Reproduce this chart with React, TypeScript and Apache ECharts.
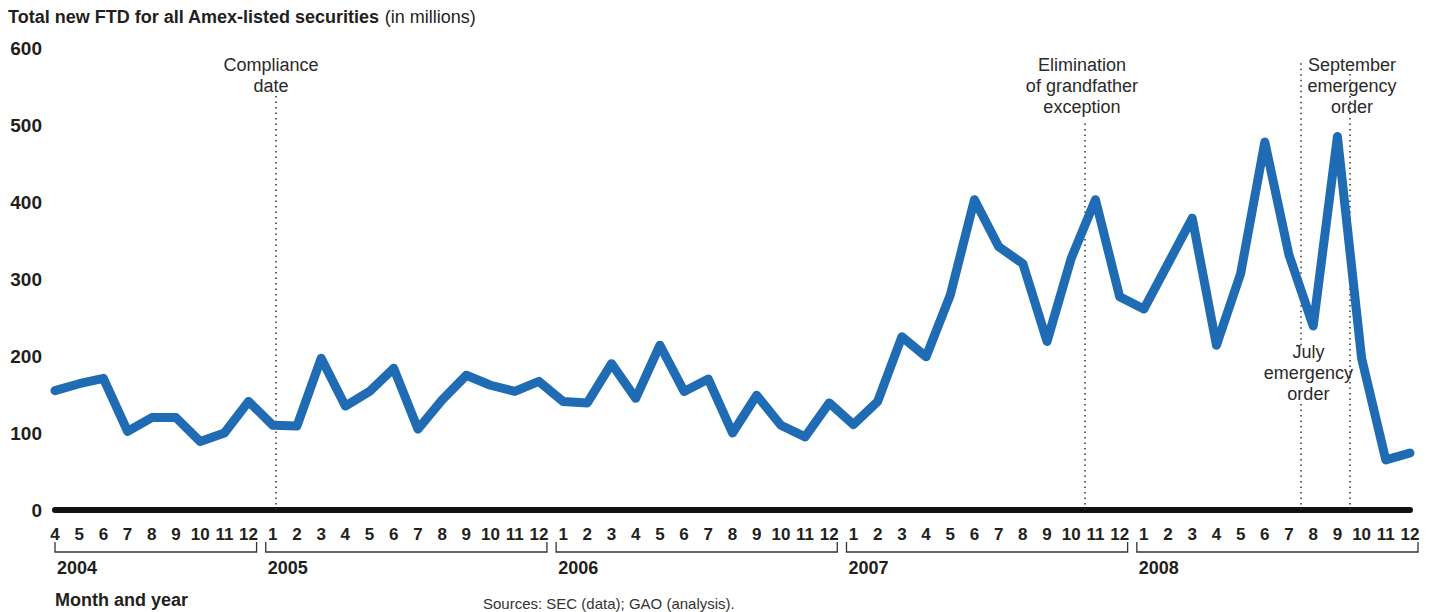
import React, { useEffect, useRef } from "react";
import * as echarts from "echarts";

// ---- data ----
const yearLabels = ["2004", "2005", "2006", "2007", "2008"];
const yearFirstMonth = [4, 1, 1, 1, 1];
const yearLastMonth = [12, 12, 12, 12, 12];

// Total new FTD (millions), Apr 2004 .. Dec 2008
const ftdValues = [
  155, 164, 171, 102, 120, 120, 89, 100, 141,
  110, 109, 197, 135, 154, 184, 105, 143, 175, 162, 154, 167,
  141, 139, 190, 145, 214, 154, 170, 100, 149, 110, 95, 139,
  111, 141, 225, 199, 279, 403, 342, 320, 219, 327, 403, 277,
  261, 320, 379, 214, 307, 478, 331, 239, 485, 197, 65, 74,
];

const yTicks = [0, 100, 200, 300, 400, 500, 600];

// event annotations: position on month index axis (fractional), label and label anchor
const eventNames = [
  ["Compliance", "date"],
  ["Elimination", "of grandfather", "exception"],
  ["July", "emergency", "order"],
  ["September", "emergency", "order"],
];
const eventLinePos = [9.13, 42.56, 51.49, 53.5];
const eventLineTop = [539, 506, 584, 571];
const eventLabelX = [8.93, 42.44, 51.8, 53.6];
const eventLabelY = [578, 578, 205, 578];
// gap in line where label overlaps (value range), null if none
const eventLineGap: (number[] | null)[] = [null, null, [140, 214], null];

const titleBold = "Total new FTD for all Amex-listed securities";
const titleNormal = "(in millions)";
const xAxisTitle = "Month and year";
const sourceText = "Sources: SEC (data); GAO (analysis).";

// month tick labels derived from year spans
const monthLabels: string[] = [];
const yearStartIdx: number[] = [];
const yearEndIdx: number[] = [];
yearLabels.forEach((_, k) => {
  yearStartIdx.push(monthLabels.length);
  for (let m = yearFirstMonth[k]; m <= yearLastMonth[k]; m++) monthLabels.push(String(m));
  yearEndIdx.push(monthLabels.length - 1);
});

const FONT = "'Liberation Sans', Arial, Helvetica, sans-serif";
const BLUE = "#1f6cb5";
const INK = "#231f20";

export default function App() {
  const ref = useRef<HTMLDivElement>(null);
  useEffect(() => {
    if (!ref.current) return;
    const chart = echarts.init(ref.current, undefined, { renderer: "svg" });

    const markData: any[] = [];
    eventLinePos.forEach((x, k) => {
      const gap = eventLineGap[k];
      if (gap) {
        markData.push([{ coord: [x, 0] }, { coord: [x, gap[0]] }]);
        markData.push([{ coord: [x, gap[1]] }, { coord: [x, eventLineTop[k]] }]);
      } else {
        markData.push([{ coord: [x, 0] }, { coord: [x, eventLineTop[k]] }]);
      }
    });

    chart.setOption({
      animation: false,
      backgroundColor: "#ffffff",
      textStyle: { fontFamily: FONT },
      title: {
        left: 8,
        top: 8,
        padding: 0,
        text: `{b|${titleBold}} {n|${titleNormal}}`,
        textStyle: {
          rich: {
            b: { fontFamily: FONT, fontWeight: "bold", fontSize: 18, color: INK },
            n: { fontFamily: FONT, fontWeight: "normal", fontSize: 18, color: INK },
          },
        },
      },
      grid: { left: 55, right: 29, top: 48, bottom: 102 },
      xAxis: {
        type: "value",
        min: 0,
        max: monthLabels.length - 1,
        interval: 1,
        axisLine: { show: true, onZero: false, lineStyle: { color: "#111", width: 6 } },
        axisTick: { show: false },
        splitLine: { show: false },
        axisLabel: {
          margin: 16,
          fontFamily: FONT,
          fontWeight: "bold",
          fontSize: 17,
          color: INK,
          formatter: (v: number) => monthLabels[Math.round(v)] ?? "",
        },
      },
      yAxis: {
        type: "value",
        min: yTicks[0],
        max: yTicks[yTicks.length - 1],
        interval: 100,
        axisLine: { show: false },
        axisTick: { show: false },
        splitLine: { show: false },
        axisLabel: {
          margin: 13,
          fontFamily: FONT,
          fontWeight: "bold",
          fontSize: 19,
          color: INK,
        },
      },
      series: [
        {
          type: "line",
          data: ftdValues.map((v, i) => [i, v]),
          symbol: "none",
          lineStyle: { color: BLUE, width: 9, cap: "round", join: "round" },
          z: 3,
          markLine: {
            silent: true,
            symbol: "none",
            label: { show: false },
            lineStyle: { color: "#333", width: 1.5, type: [1.5, 4] },
            data: markData,
            z: 2,
          },
        },
      ],
    });

    const px = (x: number, y: number) =>
      chart.convertToPixel({ gridIndex: 0 }, [x, y]) as number[];

    const graphics: any[] = [];
    const axisY = px(0, 0)[1];
    const firstX = px(0, 0)[0];

    // event labels
    eventNames.forEach((lines, k) => {
      const p = px(eventLabelX[k], eventLabelY[k]);
      graphics.push({
        type: "text",
        x: p[0],
        y: p[1] - 10.5,
        z: 10,
        style: {
          text: lines.join("\n"),
          fontFamily: FONT,
          fontSize: 18,
          lineHeight: 21,
          fill: "#2a2a2a",
          align: "center",
          verticalAlign: "top",
        },
      });
    });

    // year brackets
    yearLabels.forEach((yl, k) => {
      const x1 = Math.max(px(yearStartIdx[k], 0)[0] - 7, firstX);
      const x2 = px(yearEndIdx[k], 0)[0] + 8;
      const yt = axisY + 32;
      const yb = axisY + 42;
      graphics.push({
        type: "polyline",
        shape: { points: [[x1, yt], [x1, yb], [x2, yb], [x2, yt]] },
        style: { stroke: "#333", lineWidth: 1.3, fill: null },
      });
      graphics.push({
        type: "text",
        x: x1 + 2,
        y: axisY + 58,
        style: {
          text: yl,
          fontFamily: FONT,
          fontWeight: "bold",
          fontSize: 18,
          fill: INK,
          align: "left",
          verticalAlign: "middle",
        },
      });
    });

    graphics.push({
      type: "text",
      x: firstX,
      y: axisY + 90,
      style: {
        text: xAxisTitle,
        fontFamily: FONT,
        fontWeight: "bold",
        fontSize: 18,
        fill: INK,
        align: "left",
        verticalAlign: "middle",
      },
    });
    graphics.push({
      type: "text",
      x: 483,
      y: axisY + 86,
      style: {
        text: sourceText,
        fontFamily: FONT,
        fontSize: 15,
        fill: "#333",
        align: "left",
        verticalAlign: "top",
      },
    });

    chart.setOption({ graphic: graphics });

    return () => chart.dispose();
  }, []);

  return (
    <div
      ref={ref}
      style={{ position: "absolute", left: 0, top: 0, width: 1439, height: 612 }}
    />
  );
}
